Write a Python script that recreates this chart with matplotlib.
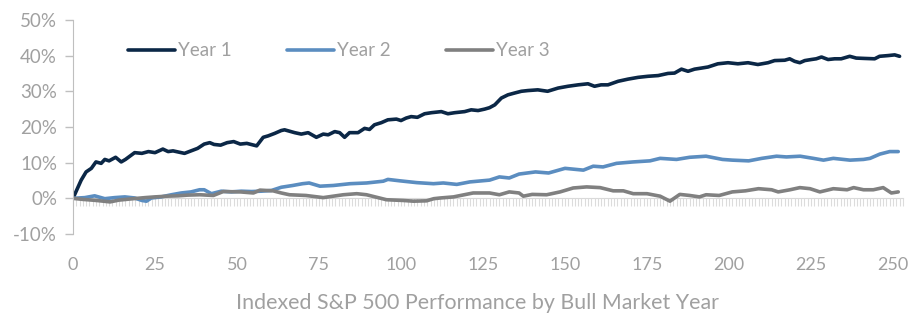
import numpy as np
import matplotlib
matplotlib.use("Agg")
import matplotlib.pyplot as plt
from matplotlib.ticker import MultipleLocator, FuncFormatter

# values (trading day, % change)
year1_days = [0, 2.5, 4, 5.6, 7, 8.6, 9.7, 11, 13, 14.7, 16, 18.8, 21, 23, 25, 27.4, 29, 30.5,
              34, 36, 38, 40, 41.7, 43, 45, 47, 49, 51, 53, 56, 58, 59.5, 61.5, 63.5, 64.5,
              67.6, 69.6, 71.7, 74.2, 76.3, 77.8, 79.8, 81.3, 82.8, 84.3, 86.9, 88.9, 90.4,
              91.9, 94, 96, 98.6, 100, 101.6, 103.1, 105, 107.2, 109.3, 112.3, 114.3, 116.4,
              119.4, 121.4, 123.5, 125.5, 127, 128.6, 130.6, 132.6, 134.6, 136.7, 138.7,
              141.7, 144.7, 147.9, 150.9, 154, 157, 159, 161, 163.1, 166.2, 169.2, 172.3,
              175.3, 178.4, 181.4, 183.4, 185.5, 187.5, 189.5, 191.6, 193.6, 196.6, 199.7,
              202.7, 205.8, 208.8, 211.9, 213.9, 217, 218.5, 220, 221.6, 223.1, 225.1, 226.6,
              228.2, 230.2, 232.2, 234.2, 236.8, 238.8, 241.4, 244.4, 245.9, 248.5, 250.5, 252]
year1_vals = [0, 5.1, 7.4, 8.4, 10.2, 9.8, 10.9, 10.5, 11.5, 10.2, 10.9, 12.8, 12.6, 13.1, 12.8,
              13.8, 13.1, 13.3, 12.6, 13.3, 14.0, 15.2, 15.6, 15.1, 14.9, 15.6, 15.9, 15.2,
              15.4, 14.7, 17.1, 17.5, 18.2, 19.0, 19.2, 18.4, 18.0, 18.4, 17.1, 18.0, 17.8,
              18.7, 18.4, 17.1, 18.4, 18.4, 19.6, 19.3, 20.6, 21.2, 22.0, 22.2, 21.8, 22.5,
              22.9, 22.7, 23.7, 24.0, 24.3, 23.7, 24.0, 24.3, 24.8, 24.6, 25.0, 25.4, 26.2,
              28.1, 29.0, 29.5, 30.0, 30.2, 30.4, 30.0, 30.9, 31.4, 31.8, 32.1, 31.4, 31.8,
              31.8, 32.8, 33.4, 33.9, 34.2, 34.4, 35.0, 35.1, 36.2, 35.6, 36.2, 36.5, 36.8,
              37.7, 38.0, 37.7, 38.0, 37.5, 38.0, 38.6, 38.7, 39.1, 38.4, 38.0, 38.6, 38.9,
              39.1, 39.6, 38.9, 39.1, 39.1, 39.8, 39.3, 39.2, 39.1, 39.8, 40.0, 40.2, 39.8]

year2_days = [0, 3.6, 6.6, 9.7, 12.7, 15.8, 18.8, 21, 22.4, 23.9, 26.9, 30, 33, 36, 38.6, 40,
              42.2, 45.2, 48.3, 51.3, 54.4, 57.4, 60.5, 63.5, 67, 70, 72, 75.3, 79.4, 84.5,
              89.5, 94.6, 96, 99.7, 104.8, 109.9, 112.9, 117, 121, 127, 130, 133, 136, 141,
              145, 150, 155.6, 158.6, 161.6, 165.7, 170.8, 175.9, 179, 184, 188, 193, 198,
              201, 206, 210, 214.5, 217.5, 221.7, 225.7, 228.8, 231.8, 236.9, 241, 243, 246,
              249, 251.6]
year2_vals = [0, 0.2, 0.7, -0.1, 0.2, 0.4, 0.1, -0.6, -0.8, 0.1, 0.4, 1.0, 1.5, 1.8, 2.4, 2.4,
              1.3, 2.0, 1.8, 2.0, 1.9, 2.0, 2.2, 3.1, 3.6, 4.1, 4.3, 3.4, 3.6, 4.1, 4.3, 4.8,
              5.3, 4.9, 4.4, 4.1, 4.3, 3.9, 4.6, 5.1, 6.0, 5.7, 6.8, 7.4, 7.1, 8.4, 7.9, 9.0,
              8.8, 9.8, 10.2, 10.5, 11.2, 10.9, 11.5, 11.8, 10.9, 10.7, 10.5, 11.2, 11.8, 11.6,
              11.8, 11.2, 10.7, 11.2, 10.7, 10.9, 11.2, 12.4, 13.1, 13.1]

year3_days = [0, 3, 7.2, 11.3, 14, 18.4, 22, 25, 28.6, 32, 35, 38.7, 42.8, 45.8, 51, 55, 57,
              61, 63.5, 66, 71, 76.3, 82.4, 86.5, 89.5, 95.6, 100.7, 103.8, 107.8, 110, 112,
              116, 122, 127, 130, 133, 136, 137.3, 140, 144.4, 148.5, 152.5, 156.6, 160.7,
              164.7, 167.8, 170.8, 175, 179, 182, 185, 188, 191, 193, 197, 201, 205, 209, 213,
              215, 218.6, 221.6, 224.7, 227.7, 231.8, 236, 238, 241, 244, 247, 249.5, 251.6]
year3_vals = [0, -0.3, -0.6, -1.0, -0.5, -0.1, 0.2, 0.4, 0.6, 0.7, 0.9, 1.0, 0.8, 1.9, 1.8,
              1.5, 2.3, 2.1, 1.5, 1.0, 0.8, 0.2, 1.0, 1.3, 1.0, -0.4, -0.6, -0.8, -0.7, -0.1,
              0.1, 0.4, 1.5, 1.5, 1.0, 1.8, 1.5, 0.6, 1.1, 1.0, 1.8, 2.9, 3.2, 3.0, 2.1, 2.1,
              1.3, 1.3, 0.6, -0.8, 1.1, 0.8, 0.4, 1.0, 0.8, 1.8, 2.1, 2.7, 2.4, 1.8, 2.4, 3.0,
              2.7, 1.8, 2.7, 2.4, 3.0, 2.4, 2.4, 3.0, 1.5, 1.8]

labels = ["Year 1", "Year 2", "Year 3"]
colors = ["#0B2746", "#5B8DC0", "#808080"]
text_gray = "#A0A0A0"

plt.rcParams["font.family"] = ["Lato", "DejaVu Sans"]

fig = plt.figure(figsize=(9.18, 3.21), dpi=100)
ax = fig.add_axes([0.0795, 0.271, 0.904, 0.667])

series = [(year1_days, year1_vals), (year2_days, year2_vals), (year3_days, year3_vals)]
for (d, v), lab, c in zip(series, labels, colors):
    ax.plot(d, v, color=c, lw=2.6, label=lab, solid_capstyle="round", solid_joinstyle="round")

ax.set_xlim(0, 253)
ax.set_ylim(-10, 50)

for s in ["top", "right"]:
    ax.spines[s].set_visible(False)
ax.spines["left"].set_color("#BFBFBF")
ax.spines["bottom"].set_position(("data", 0))
ax.spines["bottom"].set_color("#D9D9D9")
ax.spines["bottom"].set_zorder(0)

ax.yaxis.set_major_locator(MultipleLocator(10))
ax.yaxis.set_major_formatter(FuncFormatter(lambda v, p: f"{v:.0f}%"))
ax.tick_params(axis="y", colors="#BFBFBF", labelcolor=text_gray, labelsize=13.5,
               length=5.5, width=1, pad=6)

ax.xaxis.set_major_locator(MultipleLocator(25))
ax.xaxis.set_minor_locator(MultipleLocator(1))
ax.tick_params(axis="x", which="both", colors="#DCDCDC", length=6, width=0.8)
ax.tick_params(axis="x", which="major", labelcolor=text_gray, labelsize=13, pad=36)

ax.legend(loc="upper left", bbox_to_anchor=(0.046, 0.975), ncol=3, frameon=False,
          fontsize=13.5, labelcolor=text_gray, handlelength=2.5, handletextpad=0.16,
          columnspacing=2.95)

fig.text(478 / 918, 1 - 303 / 321, "Indexed S&P 500 Performance by Bull Market Year",
         ha="center", va="center", fontsize=15.4, color=text_gray)

fig.savefig("out.png", dpi=100)
